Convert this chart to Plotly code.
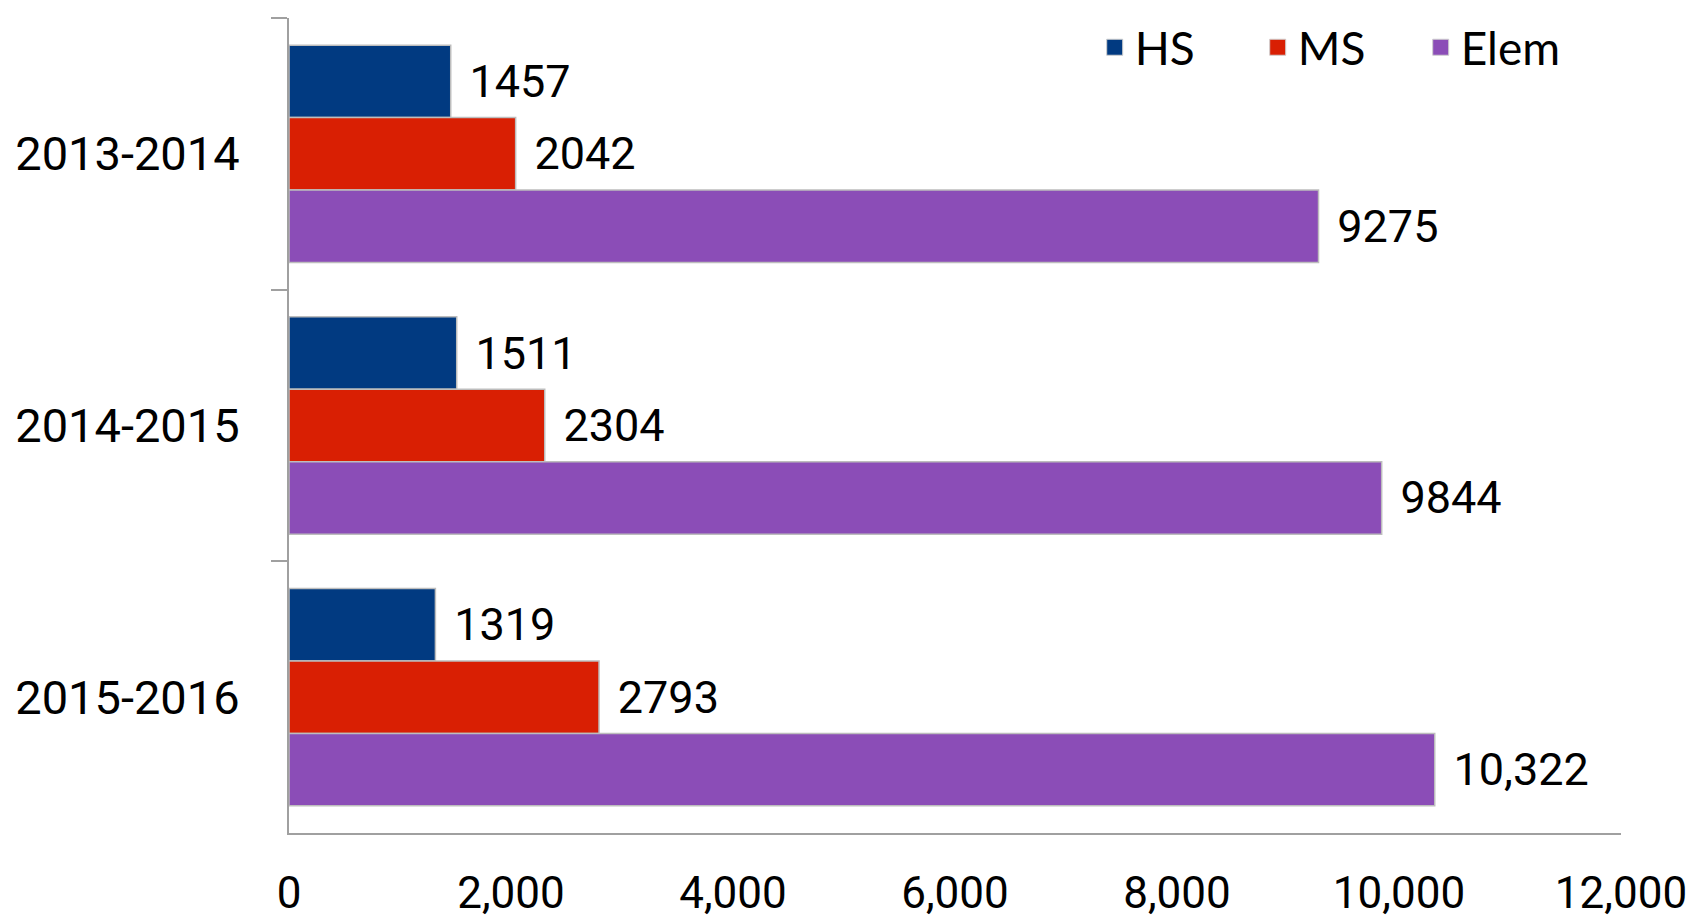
import plotly.graph_objects as go

years = ["2013-2014", "2014-2015", "2015-2016"]
series_names = ["HS", "MS", "Elem"]
hs = [1457, 1511, 1319]
ms = [2042, 2304, 2793]
elem = [9275, 9844, 10322]
hs_labels = ["1457", "1511", "1319"]
ms_labels = ["2042", "2304", "2793"]
elem_labels = ["9275", "9844", "10,322"]
x_ticks = [0, 2000, 4000, 6000, 8000, 10000, 12000]
x_tick_labels = ["0", "2,000", "4,000", "6,000", "8,000", "10,000", "12,000"]

colors = ["#013A81", "#D91F03", "#8B4DB7"]
values = [hs, ms, elem]
labels = [hs_labels, ms_labels, elem_labels]

fig = go.Figure()
for name, vals, labs, col in zip(series_names, values, labels, colors):
    fig.add_trace(go.Bar(
        y=years, x=vals, name=name, orientation="h", showlegend=False,
        marker=dict(color=col, line=dict(color="#BDBDBD", width=1.5)),
        text=[" \u200a" + t for t in labs], textposition="outside",
        textfont=dict(family="Roboto", size=45, color="black"),
        constraintext="none", cliponaxis=False,
    ))
# legend entries (square keys like the reference)
for name, col in zip(series_names, colors):
    fig.add_trace(go.Scatter(
        x=[None], y=[None], mode="markers", name=name,
        marker=dict(symbol="square", size=16, color=col, line=dict(color="#CFCFCF", width=1)),
    ))

fig.update_layout(
    width=1704, height=920,
    margin=dict(l=281, r=91, t=3, b=95),
    paper_bgcolor="white", plot_bgcolor="white",
    barmode="group", bargap=0.2, bargroupgap=0,
    showlegend=True,
    legend=dict(orientation="h", x=0.972, xanchor="right", y=0.964, yanchor="middle",
                font=dict(family="Lato", size=46, color="black"),
                bgcolor="rgba(0,0,0,0)", entrywidth=118, traceorder="normal",
                itemsizing="trace"),
    xaxis=dict(range=[0, 12000], tickmode="array", tickvals=x_ticks, ticktext=x_tick_labels,
               showgrid=False, zeroline=False, showline=True, linecolor="#A0A0A0", linewidth=2,
               ticks="", tickfont=dict(family="Roboto", size=44, color="black"),
               ticklabelstandoff=20, automargin=False),
    yaxis=dict(autorange="reversed", showgrid=False, zeroline=False, showline=True,
               linecolor="#A0A0A0", linewidth=2, ticks="outside", ticklen=16, tickwidth=2,
               tickcolor="#A0A0A0", tickson="boundaries",
               tickfont=dict(family="Roboto", size=47, color="black"),
               ticklabelstandoff=38, automargin=False),
)

fig.write_html("out.html")
